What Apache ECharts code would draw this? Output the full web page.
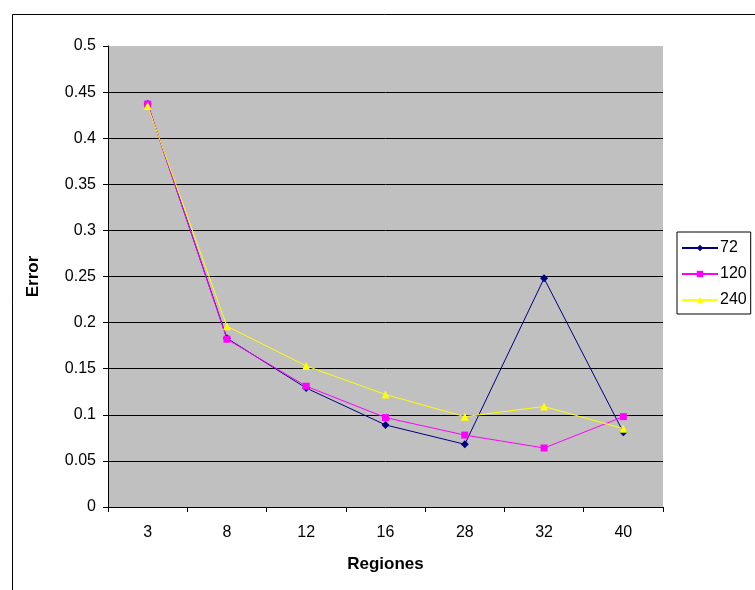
<!DOCTYPE html>
<html>
<head>
<meta charset="utf-8">
<script src="https://cdn.jsdelivr.net/npm/echarts@6/dist/echarts.min.js"></script>
<style>
  html, body { margin: 0; padding: 0; background: #ffffff; }
  #chart { width: 755px; height: 590px; }
</style>
</head>
<body>
<div id="chart"></div>
<script>
// Region counts on the x axis
const regiones = ['3', '8', '12', '16', '28', '32', '40'];

// Error per number of regions, one array per sample size
const serie72  = [0.437, 0.183, 0.129, 0.089, 0.068, 0.248, 0.081];
const serie120 = [0.437, 0.182, 0.131, 0.097, 0.078, 0.064, 0.098];
const serie240 = [0.435, 0.196, 0.153, 0.122, 0.098, 0.109, 0.085];

const seriesNames = ['72', '120', '240'];

const font = 'Liberation Sans, Arial, sans-serif';

const chart = echarts.init(document.getElementById('chart'), null, { renderer: 'canvas' });

function lineSeries(name, data, color, symbol, size) {
  return {
    name: name,
    type: 'line',
    data: data,
    symbol: symbol,
    symbolSize: size,
    showSymbol: true,
    lineStyle: { color: color, width: 1 },
    itemStyle: { color: color, borderWidth: 0 },
    emphasis: { disabled: true },
    animation: false
  };
}

chart.setOption({
  backgroundColor: '#ffffff',
  animation: false,
  graphic: [{
    type: 'rect',
    left: 10, top: 12,
    shape: { width: 760, height: 600 },
    style: { fill: 'none', stroke: '#000000', lineWidth: 1 },
    z: -1
  }],
  grid: {
    left: 108, right: 92, top: 46, bottom: 83,
    show: true,
    backgroundColor: '#c0c0c0',
    borderWidth: 0
  },
  legend: {
    data: seriesNames,
    orient: 'vertical',
    left: 677, top: 232,
    backgroundColor: '#ffffff',
    borderColor: '#000000',
    borderWidth: 1,
    padding: [8, 4, 6, 4],
    itemGap: 10,
    itemWidth: 36,
    itemHeight: 8,
    textStyle: { fontFamily: font, fontSize: 16, color: '#000000', padding: [0, 0, 0, -3] }
  },
  xAxis: {
    type: 'category',
    data: regiones,
    boundaryGap: true,
    name: 'Regiones',
    nameLocation: 'middle',
    nameGap: 49,
    nameTextStyle: { fontFamily: font, fontSize: 17, fontWeight: 'bold', color: '#000000' },
    axisLine: { lineStyle: { color: '#000000', width: 1 } },
    axisTick: { show: true, length: 5, lineStyle: { color: '#000000' } },
    axisLabel: { fontFamily: font, fontSize: 16, color: '#000000', margin: 18 },
    splitLine: { show: false }
  },
  yAxis: {
    type: 'value',
    min: 0, max: 0.5, interval: 0.05,
    name: 'Error',
    nameLocation: 'middle',
    nameGap: 66,
    nameTextStyle: { fontFamily: font, fontSize: 17, fontWeight: 'bold', color: '#000000' },
    axisLine: { show: true, lineStyle: { color: '#000000', width: 1 } },
    axisTick: { show: true, length: 5, lineStyle: { color: '#000000' } },
    axisLabel: { fontFamily: font, fontSize: 16, color: '#000000', margin: 12 },
    splitLine: { show: true, showMinLine: false, showMaxLine: false, lineStyle: { color: '#000000', width: 1 } }
  },
  series: [
    lineSeries(seriesNames[0], serie72, '#000080', 'diamond', 8),
    lineSeries(seriesNames[1], serie120, '#ff00ff', 'rect', 7),
    lineSeries(seriesNames[2], serie240, '#ffff00', 'triangle', 8)
  ]
});
</script>
</body>
</html>
